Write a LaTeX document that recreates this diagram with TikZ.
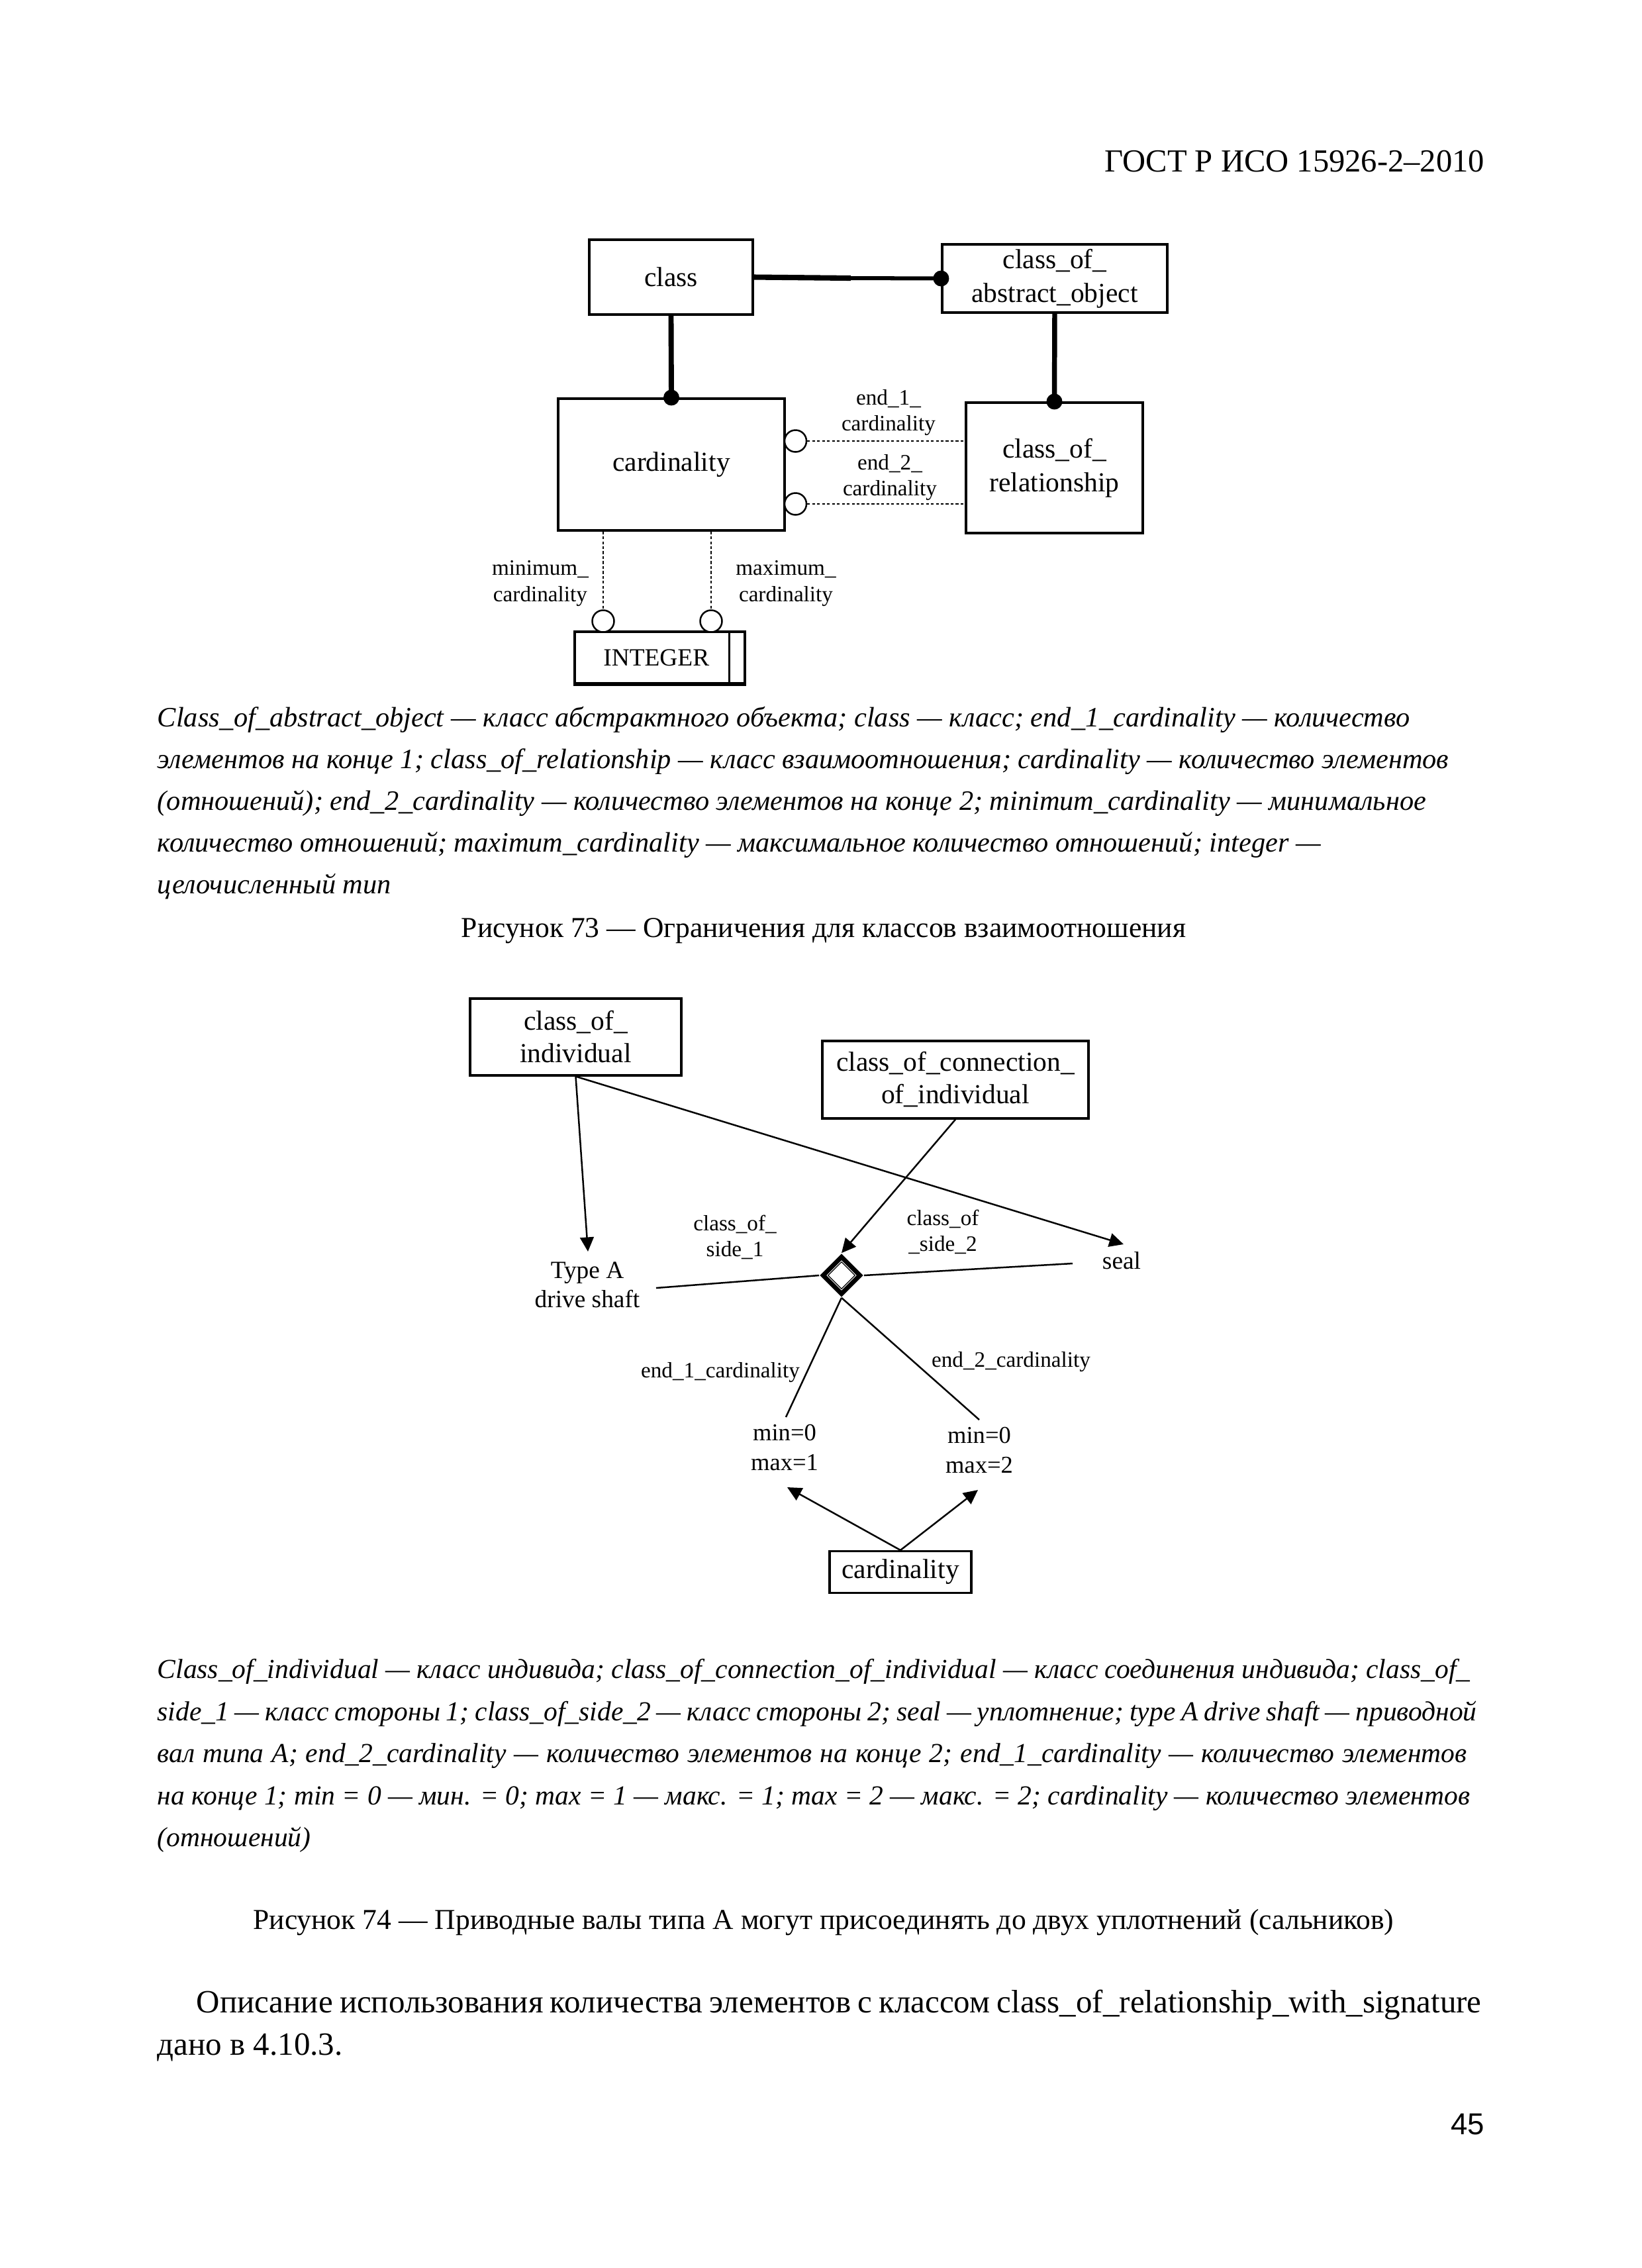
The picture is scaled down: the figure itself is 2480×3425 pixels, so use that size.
\documentclass[tikz,border=0pt]{standalone}
\usepackage{fontspec}
\setmainfont{Liberation Serif}
\newfontfamily\sansf{Liberation Sans}
\usetikzlibrary{arrows.meta,shapes.geometric}
\def\pu{0.24088pt}
\newcommand\myfs[2]{\fontsize{#1}{#2}\selectfont}
\begin{document}
\begin{tikzpicture}[x=0.24088pt,y=-0.24088pt,
  box/.style={draw, line width=0.75pt, inner sep=0pt, align=center, font=\myfs{10}{12.3}},
  lbl/.style={inner sep=0pt, align=center, font=\myfs{8}{9.5}},
  thinl/.style={line width=0.6pt},
  arr/.style={line width=0.6pt, -{Triangle[length=5.2pt,width=5pt]}},
  dsh/.style={line width=0.5pt, dash pattern=on 1pt off 0.8pt},
  oc/.style={circle, draw, fill=white, line width=0.6pt, inner sep=0pt, minimum size=33*\pu},
  capl/.style={anchor=base west, inner sep=0pt, font=\itshape\myfs{10.2}{15}},
  capm/.style={anchor=base west, inner sep=0pt, font=\itshape\myfs{10}{15}},
  figcap/.style={anchor=base, inner sep=0pt, font=\myfs{10.5}{13}},
  bodyl/.style={anchor=base west, inner sep=0pt, font=\myfs{11.8}{15}}]
\fill[white] (0,0) rectangle (2480,3425);
\useasboundingbox (0,0) rectangle (2480,3425);

% header
\node[anchor=base east, inner sep=0pt, font=\myfs{11.7}{14}] (hdr) at (2243,259) {ГОСТ Р ИСО 15926-2–2010};

% ---------------- Figure 73 ----------------
\node[box, minimum width=247*\pu, minimum height=113*\pu] (cls) at (1013.5,418.5) {class};
\node[box, minimum width=340*\pu, minimum height=103*\pu] (coao) at (1593,420.5) {class\_of\_\\abstract\_object};
\node[box, minimum width=342*\pu, minimum height=199*\pu] (card) at (1014,701.5) {cardinality};
\node[box, minimum width=267*\pu, minimum height=197*\pu] (cor) at (1592.5,706.5) {class\_of\_\\relationship};
\node[box, font=\myfs{9}{11}, minimum width=257*\pu, minimum height=78*\pu] (int) at (996.5,993) {\hspace*{-2.5pt}INTEGER};
\draw[line width=0.6pt] ([xshift=-25*\pu]int.north east) -- ([xshift=-25*\pu]int.south east);
\draw[line width=1.3pt] (int.south west) -- (int.south east);

\coordinate (m1) at (1285,420);
\draw[line width=1.95pt] (cls.east) -- (m1);
\draw[line width=1.45pt] (m1) -- (coao.west);
\fill (coao.west) circle[radius=12*\pu];
\draw[line width=1.9pt] (cls.south) -- (card.north);
\fill (card.north) circle[radius=12*\pu];
\draw[line width=1.8pt] (coao.south) -- (cor.north);
\fill (cor.north) circle[radius=12*\pu];

\node[oc] (o1) at (1201.5,666) {};
\node[oc] (o2) at (1201.5,761) {};
\draw[dsh] (o1.east) -- (o1.east -| cor.west);
\draw[dsh] (o2.east) -- (o2.east -| cor.west);
\node[oc] (o3) at (911,938) {};
\node[oc] (o4) at (1074,938) {};
\draw[dsh] (card.south -| o3) -- (o3.north);
\draw[dsh] (card.south -| o4) -- (o4.north);

\node[lbl] (le1) at (1342,623) {end\_1\_\\cardinality};
\node[lbl] (le2) at (1344,721) {end\_2\_\\cardinality};
\node[lbl] (lmn) at (816,881) {minimum\_\\cardinality};
\node[lbl] (lmx) at (1187,881) {maximum\_\\cardinality};

% caption 73
\node[capl] (ca1) at (237,1097) {Class\_of\_abstract\_object — класс абстрактного объекта; class — класс; end\_1\_cardinality — количество};
\node[capl] (ca2) at (237,1160) {элементов на конце 1; class\_of\_relationship — класс взаимоотношения; cardinality — количество элементов};
\node[capl] (ca3) at (237,1223) {(отношений); end\_2\_cardinality — количество элементов на конце 2; minimum\_cardinality — минимальное};
\node[capl] (ca4) at (237,1286) {количество отношений; maximum\_cardinality — максимальное количество отношений; integer —};
\node[capl] (ca5) at (237,1349) {целочисленный тип};
\node[figcap] (f73) at (1244,1415) {Рисунок 73 — Ограничения для классов взаимоотношения};

% ---------------- Figure 74 ----------------
\node[box, font=\myfs{10}{11.8}, minimum width=319*\pu, minimum height=116*\pu] (coi) at (869.5,1566) {class\_of\_\\individual};
\node[box, font=\myfs{10}{11.8}, minimum width=402*\pu, minimum height=117*\pu] (cocoi) at (1443,1630.5) {class\_of\_connection\_\\of\_individual};
\node[inner sep=0pt, align=center, font=\myfs{9}{10.6}] (tA) at (887,1940) {Type A\\drive shaft};
\node[inner sep=0pt, font=\myfs{9}{10.6}] (seal) at (1694,1904) {seal};
\node[diamond, fill=black, inner sep=0pt, minimum width=66*\pu, minimum height=66*\pu] (dia) at (1271,1926) {};
\node[diamond, fill=white, inner sep=0pt, minimum width=46*\pu, minimum height=46*\pu] (diaw) at (dia) {};
\node[diamond, draw=black, line width=0.3pt, fill=white, inner sep=0pt, minimum width=41*\pu, minimum height=41*\pu] (diai) at (dia) {};

\coordinate (tAtop) at (888,1890);
\coordinate (sealtop) at (1697,1879);
\coordinate (tAend) at (991,1945);
\coordinate (sealend) at (1620,1908);
\coordinate (e1end) at (1187,2140);
\coordinate (e2end) at (1479,2144);
\coordinate (mm1tip) at (1189,2246);
\coordinate (mm2tip) at (1477,2250);

\draw[arr] (coi.south) -- (tAtop);
\draw[arr] (coi.south) -- (sealtop);
\draw[arr] (cocoi.south) -- (dia.north);
\draw[thinl] (tAend) -- (dia.west);
\draw[thinl] (dia.east) -- (sealend);
\draw[thinl] (dia.south) -- (e1end);
\draw[thinl] (dia.south) -- (e2end);

\node[lbl, font=\myfs{8}{9.4}] (ls1) at (1110,1868) {class\_of\_\\side\_1};
\node[lbl, font=\myfs{8}{9.4}] (ls2) at (1424,1860) {class\_of\\\_side\_2};
\node[lbl] (lc1) at (1088,2073) {end\_1\_cardinality};
\node[lbl] (lc2) at (1527,2057) {end\_2\_cardinality};
\node[inner sep=0pt, align=center, font=\myfs{8.8}{11}] (mm1) at (1185,2186) {min=0\\max=1};
\node[inner sep=0pt, align=center, font=\myfs{8.8}{11}] (mm2) at (1479,2190) {min=0\\max=2};
\node[box, minimum width=214*\pu, minimum height=63*\pu] (cd2) at (1360,2374) {cardinality};
\draw[arr] (cd2.north) -- (mm1tip);
\draw[arr] (cd2.north) -- (mm2tip);

% caption 74
\node[capm] (cb1) at (237,2534) {\makebox[477.5pt][s]{Class\_of\_individual — класс индивида; class\_of\_connection\_of\_individual — класс соединения индивида; class\_of\_}};
\node[capm] (cb2) at (237,2598) {\makebox[480pt][s]{side\_1 — класс стороны 1; class\_of\_side\_2 — класс стороны 2; seal — уплотнение; type A drive shaft — приводной}};
\node[capm] (cb3) at (237,2661) {\makebox[476.4pt][s]{вал типа А; end\_2\_cardinality — количество элементов на конце 2; end\_1\_cardinality — количество элементов}};
\node[capm] (cb4) at (237,2725) {\makebox[477.5pt][s]{на конце 1; min = 0 — мин. = 0; max = 1 — макс. = 1; max = 2 — макс. = 2; cardinality — количество элементов}};
\node[capm] (cb5) at (237,2788) {(отношений)};
\node[figcap] (f74) at (1244,2913) {Рисунок 74 — Приводные валы типа А могут присоединять до двух уплотнений (сальников)};

% body
\node[bodyl] (b1) at (296,3039) {\makebox[467.5pt][s]{Описание использования количества элементов с классом class\_of\_relationship\_with\_signature}};
\node[bodyl] (b2) at (237,3103) {дано в 4.10.3.};
\node[anchor=base east, inner sep=0pt, font=\sansf\myfs{11}{13}] (pg) at (2243,3223) {45};
\end{tikzpicture}
\end{document}
